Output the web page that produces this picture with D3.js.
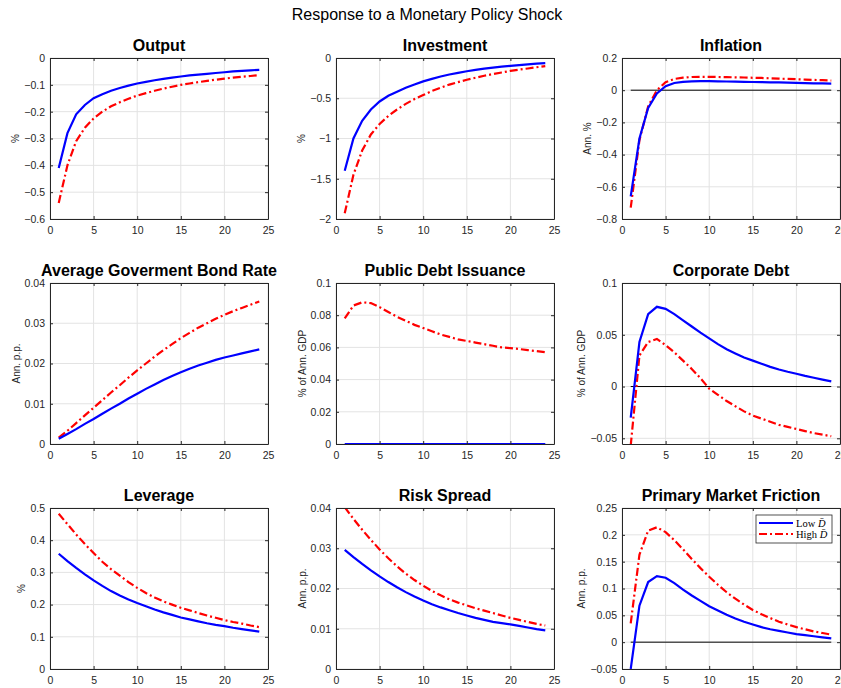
<!DOCTYPE html>
<html><head><meta charset="utf-8">
<script src="https://cdn.jsdelivr.net/npm/d3@7"></script>
<style>body{margin:0;background:#fff}</style>
</head><body>
<svg id="c" width="841" height="688"></svg>
<script>
const mainTitle = "Response to a Monetary Policy Shock";
const periods = [1,2,3,4,5,6,7,8,9,10,11,12,13,14,15,16,17,18,19,20,21,22,23,24];
const xTicks = [0,5,10,15,20,25];
const seriesNames = ["Low", "High"];

const titles = ["Output","Investment","Inflation","Average Goverment Bond Rate","Public Debt Issuance","Corporate Debt","Leverage","Risk Spread","Primary Market Friction"];
const yLabels = ["%","%","Ann. %","Ann. p.p.","% of Ann. GDP","% of Ann. GDP","%","Ann. p.p.","Ann. p.p."];
const yDomains = [[-0.6,0],[-2,0],[-0.8,0.2],[0,0.04],[0,0.1],[-0.0555,0.1],[0,0.5],[0,0.04],[-0.05,0.25]];
const yTicks = [
  [-0.6,-0.5,-0.4,-0.3,-0.2,-0.1,0],
  [-2,-1.5,-1,-0.5,0],
  [-0.8,-0.6,-0.4,-0.2,0,0.2],
  [0,0.01,0.02,0.03,0.04],
  [0,0.02,0.04,0.06,0.08,0.1],
  [-0.05,0,0.05,0.1],
  [0,0.1,0.2,0.3,0.4,0.5],
  [0,0.01,0.02,0.03,0.04],
  [-0.05,0,0.05,0.1,0.15,0.2,0.25]
];
const zeroLinePanels = [2,5,8];

// Low D (blue) series
const outputLow = [-0.41,-0.28,-0.21,-0.175,-0.15,-0.135,-0.122,-0.112,-0.103,-0.095,-0.089,-0.083,-0.078,-0.073,-0.069,-0.065,-0.062,-0.059,-0.056,-0.053,-0.050,-0.048,-0.046,-0.044];
const investmentLow = [-1.4,-1.0,-0.78,-0.64,-0.54,-0.47,-0.42,-0.37,-0.33,-0.29,-0.26,-0.23,-0.205,-0.185,-0.165,-0.148,-0.133,-0.12,-0.108,-0.097,-0.088,-0.079,-0.071,-0.064];
const inflationLow = [-0.66,-0.30,-0.11,-0.02,0.025,0.045,0.052,0.055,0.056,0.056,0.055,0.054,0.053,0.052,0.051,0.05,0.049,0.048,0.047,0.046,0.044,0.043,0.042,0.041];
const bondRateLow = [0.0013,0.0025,0.0037,0.005,0.0062,0.0075,0.0088,0.01,0.0113,0.0125,0.0137,0.0148,0.0159,0.0169,0.0178,0.0187,0.0195,0.0202,0.0209,0.0215,0.022,0.0225,0.023,0.0235];
const publicDebtLow = [0,0,0,0,0,0,0,0,0,0,0,0,0,0,0,0,0,0,0,0,0,0,0,0];
const corpDebtLow = [-0.03,0.043,0.07,0.077,0.075,0.07,0.064,0.058,0.052,0.0465,0.041,0.036,0.032,0.028,0.025,0.022,0.019,0.0165,0.0143,0.0123,0.0103,0.0085,0.0067,0.005];
const leverageLow = [0.358,0.335,0.314,0.294,0.275,0.258,0.242,0.228,0.216,0.205,0.195,0.185,0.176,0.168,0.16,0.154,0.148,0.142,0.137,0.133,0.128,0.124,0.12,0.116];
const spreadLow = [0.0296,0.0278,0.0261,0.0245,0.023,0.0216,0.0203,0.0191,0.018,0.017,0.0161,0.0153,0.0146,0.0139,0.0133,0.0127,0.0122,0.0117,0.0114,0.0111,0.0107,0.0103,0.0099,0.0096];
const frictionLow = [-0.05,0.068,0.112,0.123,0.12,0.11,0.098,0.087,0.077,0.067,0.059,0.051,0.044,0.038,0.033,0.028,0.024,0.021,0.018,0.015,0.013,0.011,0.009,0.007];

// High D (red) series
const outputHigh = [-0.54,-0.40,-0.31,-0.26,-0.225,-0.20,-0.18,-0.165,-0.152,-0.14,-0.131,-0.122,-0.114,-0.107,-0.100,-0.095,-0.090,-0.085,-0.081,-0.077,-0.073,-0.070,-0.067,-0.064];
const investmentHigh = [-1.93,-1.45,-1.15,-0.95,-0.82,-0.72,-0.64,-0.57,-0.51,-0.46,-0.41,-0.37,-0.33,-0.30,-0.27,-0.245,-0.22,-0.20,-0.18,-0.16,-0.145,-0.13,-0.115,-0.10];
const inflationHigh = [-0.73,-0.31,-0.10,0.0,0.05,0.07,0.078,0.082,0.083,0.083,0.082,0.081,0.08,0.079,0.077,0.076,0.074,0.072,0.07,0.068,0.066,0.064,0.062,0.06];
const bondRateHigh = [0.0016,0.0033,0.0052,0.0071,0.009,0.0109,0.0128,0.0146,0.0165,0.0183,0.02,0.0217,0.0233,0.0248,0.0263,0.0276,0.0289,0.03,0.0311,0.0321,0.033,0.0338,0.0346,0.0354];
const publicDebtHigh = [0.078,0.086,0.088,0.0875,0.085,0.082,0.079,0.0765,0.074,0.072,0.070,0.068,0.0665,0.065,0.064,0.063,0.062,0.061,0.060,0.0595,0.059,0.0583,0.0577,0.057];
const corpDebtHigh = [-0.057,0.03,0.043,0.046,0.04,0.033,0.025,0.017,0.008,-0.002,-0.008,-0.014,-0.019,-0.024,-0.028,-0.031,-0.034,-0.037,-0.039,-0.041,-0.043,-0.045,-0.0465,-0.048];
const leverageHigh = [0.482,0.45,0.418,0.388,0.36,0.333,0.31,0.29,0.27,0.252,0.236,0.222,0.21,0.2,0.19,0.182,0.174,0.166,0.159,0.152,0.146,0.141,0.135,0.13];
const spreadHigh = [0.0402,0.0373,0.0346,0.0321,0.0297,0.0275,0.0255,0.0237,0.0221,0.0207,0.0194,0.0183,0.0173,0.0165,0.0158,0.0151,0.0145,0.0139,0.0133,0.0127,0.0122,0.0117,0.0112,0.0108];
const frictionHigh = [0.035,0.163,0.208,0.214,0.205,0.19,0.173,0.155,0.138,0.122,0.107,0.093,0.081,0.07,0.06,0.052,0.045,0.038,0.033,0.028,0.024,0.02,0.017,0.014];

const lowSeries = [outputLow,investmentLow,inflationLow,bondRateLow,publicDebtLow,corpDebtLow,leverageLow,spreadLow,frictionLow];
const highSeries = [outputHigh,investmentHigh,inflationHigh,bondRateHigh,publicDebtHigh,corpDebtHigh,leverageHigh,spreadHigh,frictionHigh];

const svg = d3.select('#c');
const FONT = '"Liberation Sans", Arial, Helvetica, sans-serif';
const AX = '#262626';
svg.append('rect').attr('width',841).attr('height',688).attr('fill','#fff');
svg.append('text').attr('x',427).attr('y',19.5).attr('text-anchor','middle')
  .style('font-family',FONT).style('font-size','16px').attr('fill','#000').text(mainTitle);

const colLeft=[50,336,622], rowTop=[58,283,508], W=218, H=161;
const BLUE='#0000ff', RED='#ff0000';
const fmt = v => d3.format('')(+v.toFixed(4));

titles.forEach((t,i)=>{
  const g = svg.append('g').attr('transform',`translate(${colLeft[i%3]},${rowTop[Math.floor(i/3)]})`);
  const x = d3.scaleLinear().domain([0,25]).range([0,W]);
  const y = d3.scaleLinear().domain(yDomains[i]).range([H,0]);
  // grid
  g.append('g').selectAll('line').data(xTicks).join('line')
    .attr('x1',d=>x(d)).attr('x2',d=>x(d)).attr('y1',0).attr('y2',H)
    .attr('stroke','#e3e3e3').attr('stroke-width',1);
  g.append('g').selectAll('line').data(yTicks[i]).join('line')
    .attr('x1',0).attr('x2',W).attr('y1',d=>y(d)).attr('y2',d=>y(d))
    .attr('stroke','#e3e3e3').attr('stroke-width',1);
  const cid='clip'+i;
  g.append('clipPath').attr('id',cid).append('rect').attr('width',W).attr('height',H);
  const pg = g.append('g').attr('clip-path',`url(#${cid})`);
  if (zeroLinePanels.includes(i)) {
    pg.append('line').attr('x1',x(periods[0])).attr('x2',x(periods[periods.length-1]))
      .attr('y1',y(0)).attr('y2',y(0)).attr('stroke','#000').attr('stroke-width',1);
  }
  const line = d3.line().x((d,j)=>x(periods[j])).y(d=>y(d));
  pg.append('path').datum(highSeries[i]).attr('d',line).attr('fill','none')
    .attr('stroke',RED).attr('stroke-width',2.2).attr('stroke-dasharray','8,3,2,3');
  pg.append('path').datum(lowSeries[i]).attr('d',line).attr('fill','none')
    .attr('stroke',BLUE).attr('stroke-width',2.2);
  // axes
  const styleAxis = sel => {
    sel.selectAll('path').attr('stroke',AX).attr('stroke-width',1);
    sel.selectAll('line').attr('stroke',AX);
    sel.selectAll('text').attr('fill',AX).style('font-family',FONT).style('font-size','10.5px');
  };
  g.append('g').attr('transform',`translate(0,${H})`)
    .call(d3.axisBottom(x).tickValues(xTicks).tickSizeInner(-3).tickSizeOuter(0).tickPadding(8).tickFormat(d3.format('d')))
    .call(styleAxis);
  g.append('g')
    .call(d3.axisTop(x).tickValues(xTicks).tickSizeInner(-3).tickSizeOuter(0).tickFormat(''))
    .call(styleAxis);
  const ya = g.append('g')
    .call(d3.axisLeft(y).tickValues(yTicks[i]).tickSizeInner(-3).tickSizeOuter(0).tickPadding(5).tickFormat(fmt))
    .call(styleAxis);
  g.append('g').attr('transform',`translate(${W},0)`)
    .call(d3.axisRight(y).tickValues(yTicks[i]).tickSizeInner(-3).tickSizeOuter(0).tickFormat(''))
    .call(styleAxis);
  ya.selectAll('text').attr('x',-5);
  const bb = ya.node().getBBox();
  g.append('text').attr('transform',`translate(${bb.x-5},${H/2}) rotate(-90)`)
    .attr('text-anchor','middle').style('font-family',FONT).style('font-size','10px')
    .attr('fill',AX).text(yLabels[i]);
  g.append('text').attr('x',W/2).attr('y',-7).attr('text-anchor','middle')
    .style('font-family',FONT).style('font-size','16px').style('font-weight','bold')
    .attr('fill','#000').text(t);

  if (i===8) {
    const lg = g.append('g').attr('transform',`translate(${W-84},7)`);
    lg.append('rect').attr('width',76).attr('height',28).attr('fill','#fff')
      .attr('stroke',AX).attr('stroke-width',0.8);
    [[BLUE,null],[RED,'8,3,2,3']].forEach((s,k)=>{
      const yy = 8 + k*11;
      lg.append('line').attr('x1',3).attr('x2',37).attr('y1',yy).attr('y2',yy)
        .attr('stroke',s[0]).attr('stroke-width',2.2).attr('stroke-dasharray',s[1]);
      const tx = lg.append('text').attr('x',40).attr('y',yy+3.5)
        .style('font-family','"Liberation Serif", "Times New Roman", serif').style('font-size','10.5px').attr('fill','#000');
      tx.append('tspan').text(seriesNames[k]+' ');
      tx.append('tspan').style('font-style','italic').text('D\u0304');
    });
  }
});
</script>
</body></html>
